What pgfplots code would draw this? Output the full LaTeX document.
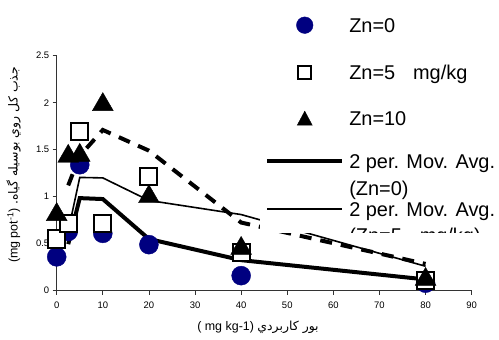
\documentclass[border=0pt]{standalone}
\usepackage{fontspec}
\setmainfont{Liberation Sans}
\newfontfamily\arabicfont[Script=Arabic]{DejaVu Sans}
\TeXXeTstate=1
\usepackage{pgfplots}
\pgfplotsset{compat=1.18}
\definecolor{navyxl}{RGB}{0,0,128}
\begin{document}
\begin{tikzpicture}
\useasboundingbox (0,0) rectangle (499bp,340bp);
\clip (0,0) rectangle (499bp,340bp);
\begin{axis}[
  at={(56.7bp,49.3bp)}, anchor=south west,
  width=415bp, height=235bp, scale only axis,
  xmin=0, xmax=90, ymin=0, ymax=2.5,
  axis lines*=left,
  axis line style={line width=0.8bp, black!80},
  xtick={0,10,...,90}, ytick={0,0.5,...,2.5},
  tick align=outside, major tick length=4bp,
  tick style={line width=0.8bp, black!80},
  /pgf/number format/assume math mode=true,
  yticklabel style={/pgf/number format/fixed},
  xticklabel style={yshift=-4bp},
  ticklabel style={font=\fontsize{9.5}{11}\selectfont},
  xlabel={( mg kg-1) {\arabicfont\beginR بور کاربردي\endR}},
  ylabel={(mg pot\textsuperscript{-1}) {\arabicfont\beginR جذب کل روي بوسیله گیاه.\endR}},
  label style={font=\fontsize{12.5}{14}\selectfont},
  xlabel style={at={(axis description cs:0.485,-0.155)}, anchor=center},
  ylabel style={at={(axis description cs:-0.104,0.535)}, anchor=center},
  clip=false,
]
\addplot[only marks, mark=*, mark size=9.5bp, navyxl, mark options={fill=navyxl, draw=navyxl}]
  coordinates {(0,0.36) (2.5,0.63) (5,1.34) (10,0.61) (20,0.49) (40,0.16) (80,0.08)};
\addplot[only marks, mark=square*, mark size=8.5bp, black, mark options={fill=white, draw=black, line width=2bp}]
  coordinates {(0,0.55) (2.5,0.72) (5,1.69) (10,0.71) (20,1.21) (40,0.41) (80,0.11)};
\addplot[only marks, mark=triangle*, mark size=12bp, black, mark options={fill=black, draw=black}]
  coordinates {(0,0.81) (2.5,1.43) (5,1.44) (10,1.98) (20,1.0) (40,0.45) (80,0.12)};
\addplot[black, line width=4bp, no marks]
  coordinates {(2.5,0.495) (5,0.985) (10,0.975) (20,0.55) (40,0.325) (80,0.12)};
\addplot[black, line width=1.6bp, no marks]
  coordinates {(2.5,0.635) (5,1.205) (10,1.2) (20,0.96) (40,0.81) (80,0.26)};
\addplot[black, line width=4bp, no marks, dash pattern=on 12bp off 9bp]
  coordinates {(2.5,1.12) (5,1.435) (10,1.71) (20,1.49) (40,0.725) (80,0.285)};
\end{axis}
\begin{scope}
\clip (0,107bp) rectangle (499bp,340bp);
\begin{axis}[
  at={(56.7bp,49.3bp)}, anchor=south west,
  width=415bp, height=235bp, scale only axis,
  xmin=0, xmax=90, ymin=0, ymax=2.5,
  hide axis,
  legend style={at={(0.49,1.2498)}, anchor=north west, fill=white, draw=none,
    font=\fontsize{20}{24}\selectfont, inner xsep=5bp, inner ysep=0bp,
    row sep=0bp, column sep=5bp,
    nodes={inner sep=0pt},
    cells={anchor=west}},
]
\addlegendimage{legend image code/.code={\fill[navyxl] (37.5bp,0) circle (8.3bp);}}
\addlegendentry[text height=35.2bp, text depth=20.8bp]{Zn=0}
\addlegendimage{legend image code/.code={\draw[black, line width=2bp, fill=white] (31bp,-6.5bp) rectangle (44bp,6.5bp);}}
\addlegendentry[text height=26.2bp, text depth=11.8bp]{Zn=5\hspace{0.9em}mg/kg}
\addlegendimage{legend image code/.code={\fill[black] (30bp,-7bp) -- (45bp,-7bp) -- (37.5bp,7bp) -- cycle;}}
\addlegendentry[text height=34.2bp, text depth=19.8bp]{Zn=10}
\addlegendimage{legend image code/.code={\draw[black, line width=4bp] (0,0) -- (75bp,0);}}
\addlegendentry[text height=23.2bp, text depth=8.8bp]{2 per. Mov. Avg.}
\addlegendimage{empty legend}
\addlegendentry[text height=18.2bp, text depth=3.8bp]{(Zn=0)}
\addlegendimage{legend image code/.code={\draw[black, line width=1.6bp] (0,0) -- (75bp,0);}}
\addlegendentry[text height=17.2bp, text depth=2.8bp]{2 per. Mov. Avg.}
\addlegendimage{empty legend}
\addlegendentry[text height=23.2bp, text depth=8.8bp]{(Zn=5\hspace{0.9em}mg/kg)}
\addlegendimage{legend image code/.code={\draw[black, line width=4bp, dash pattern=on 12bp off 9bp] (0,0) -- (75bp,0);}}
\addlegendentry[text height=23.2bp, text depth=8.8bp]{2 per. Mov. Avg.}
\end{axis}
\end{scope}
\end{tikzpicture}
\end{document}
